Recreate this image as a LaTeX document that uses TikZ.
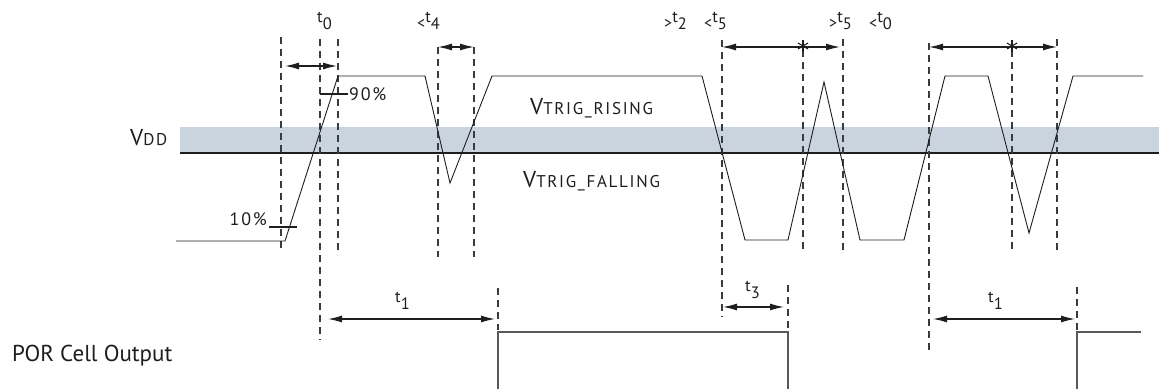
\documentclass[tikz,border=0pt]{standalone}
\usepackage{fontspec}
\setmainfont{PT Sans}
\newfontfamily\widefont[LetterSpace=10]{PT Sans}
\usetikzlibrary{arrows.meta}
\definecolor{bandc}{HTML}{C9D4DF}
\definecolor{guidec}{HTML}{353C42}
\definecolor{inkc}{HTML}{1E1E1E}
\newcommand\tlab[1]{\raisebox{6.5pt}{t}#1}
\newcommand\ltsign{\raisebox{1pt}{\fontsize{16}{16}\selectfont<}}
\newcommand\gtsign{\raisebox{1pt}{\fontsize{16}{16}\selectfont>}}
\newcommand\smc[1]{{\widefont\fontsize{17}{18}\selectfont #1}}
\begin{document}
\begin{tikzpicture}[x=1pt,y=-1pt,
  wave/.style={line width=0.9pt, draw=inkc, line join=miter},
  guide/.style={line width=1.3pt, draw=guidec, dash pattern=on 7pt off 5pt},
  dim/.style={line width=1.2pt, draw=inkc, {Latex[length=14pt,width=7pt]}-{Latex[length=14pt,width=7pt]}},
  por/.style={line width=1.5pt, draw=black!65},
  big/.style={font=\fontsize{23}{25}\selectfont, text=inkc, inner sep=0pt, anchor=base west},
  mid/.style={font=\widefont\fontsize{18}{19}\selectfont, text=inkc, inner sep=0pt},
  tl/.style={font=\fontsize{16.5}{17}\selectfont, text=inkc, inner sep=0pt, anchor=base west}
]
\useasboundingbox (0,0) rectangle (1159,389);

% threshold band
\fill[bandc] (180,127) rectangle (1159,153);
\draw[line width=1.5pt, draw=inkc] (180,153) -- (1159,153);

% dashed guides
\draw[guide] (281,37) -- (281,252);
\draw[guide] (320,39) -- (320,340);
\draw[guide] (338,39) -- (338,255);
\draw[guide] (438,47) -- (438,257);
\draw[guide] (474,47) -- (474,257);
\draw[guide] (722,40) -- (722,317);
\draw[guide] (803,50) -- (803,253);
\draw[guide] (843,39) -- (843,253);
\draw[guide] (929,43) -- (929,350);
\draw[guide] (1012,50) -- (1012,253);
\draw[guide] (1057,39) -- (1057,253);
\draw[guide] (498,288) -- (498,330);
\draw[guide] (788,285) -- (788,330);
\draw[guide] (1077,287) -- (1077,330);

% VDD waveform
\draw[wave] (176,241) -- (285,241) -- (338,76) -- (425,76) -- (450,183) -- (492,76)
  -- (702,76) -- (745,240) -- (788,240) -- (824,82) -- (860,240) -- (904,240)
  -- (945,76) -- (988,76) -- (1029,233) -- (1073,76) -- (1143,76);

% 90% / 10% ticks
\draw[wave, line width=1.1pt] (320,94) -- (348,94);
\draw[wave, line width=1.1pt] (269,227) -- (297,227);
\node[mid, anchor=base west] (p90) at (349,100) {90\%};
\node[mid, anchor=base east] (p10) at (267,225) {10\%};

% POR output
\draw[por] (498,389) -- (498,332) -- (788,332) -- (788,389);
\draw[por] (1077,389) -- (1077,332) -- (1141,332);

% dimension arrows
\coordinate (a1l) at (285,66);  \coordinate (a1r) at (337,66);
\coordinate (a2l) at (438,47);  \coordinate (a2r) at (474,47);
\coordinate (a3l) at (722,47);  \coordinate (a3r) at (840,47);
\coordinate (a4l) at (929,47);  \coordinate (a4r) at (1057,47);
\coordinate (a5l) at (328,319); \coordinate (a5r) at (495,319);
\coordinate (a6l) at (723,307); \coordinate (a6r) at (784,307);
\coordinate (a7l) at (933,319); \coordinate (a7r) at (1075,319);
\draw[dim] (a1l) -- (a1r);
\draw[dim] (a2l) -- (a2r);
\draw[dim] (a3l) -- (a3r);
\draw[dim] (a4l) -- (a4r);
\draw[dim] (a5l) -- (a5r);
\draw[dim] (a6l) -- (a6r);
\draw[dim] (a7l) -- (a7r);

% asterisks
\foreach \sx in {803,1012}{
  \draw[line width=1.1pt, draw=inkc] (\sx,40) -- (\sx,52);
  \draw[line width=1.1pt, draw=inkc] (\sx-5,43) -- (\sx+5,49);
  \draw[line width=1.1pt, draw=inkc] (\sx-5,49) -- (\sx+5,43);
}

% top labels
\node[tl] (lt0)  at (317,29) {\tlab{0}};
\node[tl] (lt4)  at (417,29) {\ltsign\tlab{4}};
\node[tl] (lt2)  at (664,29) {\gtsign\tlab{2}};
\node[tl] (lt5)  at (704,29) {\ltsign\tlab{5}};
\node[tl] (lt5b) at (829,29) {\gtsign\tlab{5}};
\node[tl] (lt0b) at (869,29) {\ltsign\tlab{0}};
\node[tl] (lt1)  at (395,309) {\tlab{1}};
\node[tl] (lt3)  at (745,298) {\tlab{3}};
\node[tl] (lt1b) at (988,309) {\tlab{1}};

% names
\node[big] (vdd) at (130,145) {V\smc{DD}};
\node[big] (vr) at (530,114) {V\smc{TRIG\_RISING}};
\node[big] (vf) at (523,187) {V\smc{TRIG\_FALLING}};
\node[big] (por) at (12,361) {POR Cell Output};
\end{tikzpicture}
\end{document}
